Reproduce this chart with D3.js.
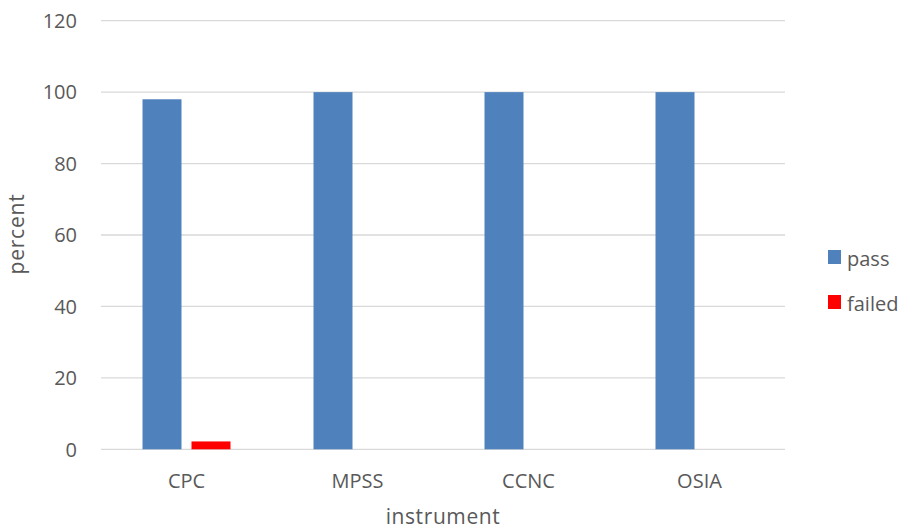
<!DOCTYPE html>
<html><head><meta charset="utf-8">
<script src="https://cdn.jsdelivr.net/npm/d3@7"></script>
<style>body{margin:0;background:#fff;} text{font-family:"Open Sans","Liberation Sans",sans-serif;fill:#595959;}</style>
</head><body><svg id="c" width="902" height="529"></svg>
<script>
const categories = ["CPC","MPSS","CCNC","OSIA"];
const seriesNames = ["pass","failed"];
const passValues = [98,100,100,100];
const failedValues = [2.2,0,0,0];
const yTicks = [0,20,40,60,80,100,120];
const colors = {pass:"#4F81BD", failed:"#FF0000"};

const svg = d3.select("#c");
const m = {l:101, r:117, t:20.7, b:79.7};
const W = 902, H = 529;
const x = d3.scaleBand().domain(categories).range([m.l, W-m.r]).paddingInner(0).paddingOuter(0);
const groupW = 88;
const xi = d3.scaleBand().domain(seriesNames).range([0, groupW]).paddingInner(10/49);
const y = d3.scaleLinear().domain([0,120]).range([H-m.b, m.t]);

// grid
svg.append("g").selectAll("line").data(yTicks).join("line")
  .attr("x1", m.l).attr("x2", W-m.r)
  .attr("y1", d=>y(d)).attr("y2", d=>y(d))
  .attr("stroke","#D9D9D9").attr("stroke-width",1.3);

// y labels
svg.append("g").selectAll("text").data(yTicks).join("text")
  .attr("x", 77).attr("y", d=>y(d)+7.2)
  .attr("text-anchor","end").attr("font-size",20).text(d=>d);

const data = categories.map((c,i)=>({c, vals:[{k:"pass",v:passValues[i]},{k:"failed",v:failedValues[i]}]}));
const g = svg.append("g").selectAll("g").data(data).join("g")
  .attr("transform", d=>`translate(${x(d.c)+(x.bandwidth()-groupW)/2},0)`);
g.selectAll("rect").data(d=>d.vals.filter(e=>e.v>0)).join("rect")
  .attr("x", e=>xi(e.k)).attr("width", xi.bandwidth())
  .attr("y", e=>y(e.v)).attr("height", e=>y(0)-y(e.v))
  .attr("fill", e=>colors[e.k]);

// x labels
svg.append("g").selectAll("text").data(categories).join("text")
  .attr("x", d=>x(d)+x.bandwidth()/2).attr("y", 488)
  .attr("text-anchor","middle").attr("font-size",20).text(d=>d);

svg.append("text").attr("x", (m.l+W-m.r)/2).attr("y", 523.5).attr("text-anchor","middle")
  .attr("font-size",21).attr("letter-spacing",0.6).text("instrument");
svg.append("text").attr("transform","translate(24,234) rotate(-90)").attr("text-anchor","middle")
  .attr("font-size",21).attr("letter-spacing",0.8).text("percent");

// legend
const lg = svg.append("g").selectAll("g").data(seriesNames).join("g")
  .attr("transform",(d,i)=>`translate(828,${250+i*45})`);
lg.append("rect").attr("width",13).attr("height",14).attr("fill",d=>colors[d]);
lg.append("text").attr("x",19).attr("y",16).attr("font-size",20).text(d=>d);
</script></body></html>
